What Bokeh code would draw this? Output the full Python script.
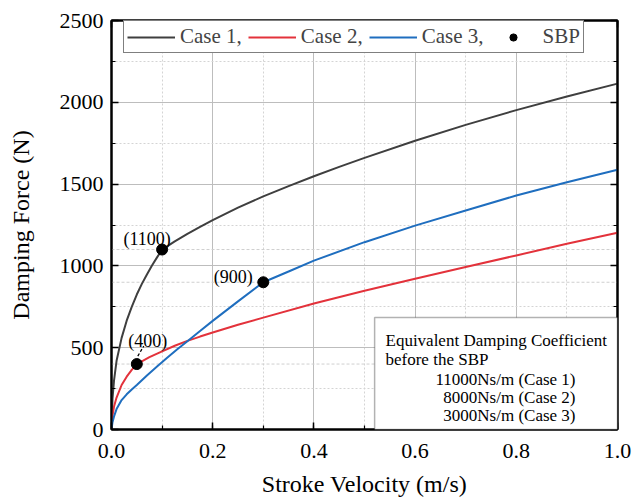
from bokeh.plotting import figure
from bokeh.models import (Range1d, SingleIntervalTicker, LinearAxis, PrintfTickFormatter,
                          CustomJSTickFormatter, Legend, LegendItem, Span, BoxAnnotation, Label)
from bokeh.embed import file_html
from bokeh.resources import INLINE

# ---------------- data ----------------
vel1 = [0, 0.002, 0.005, 0.01, 0.02, 0.03, 0.04, 0.05, 0.06, 0.07, 0.08, 0.09, 0.1,
        0.125, 0.15, 0.175, 0.2, 0.25, 0.3, 0.35, 0.4, 0.45, 0.5, 0.6, 0.7, 0.8, 0.9, 1.0]
force1 = [0, 190, 300, 420, 560, 665, 750, 825, 890, 948, 1003, 1052, 1100,
          1150, 1196, 1239, 1280, 1356, 1425, 1488, 1548, 1605, 1660, 1765, 1862, 1952, 2035, 2114]

vel2 = [0, 0.002, 0.005, 0.01, 0.02, 0.03, 0.04, 0.05, 0.075, 0.1, 0.125, 0.15, 0.175,
        0.2, 0.25, 0.3, 0.4, 0.5, 0.6, 0.7, 0.8, 0.9, 1.0]
force2 = [0, 85, 140, 195, 272, 323, 364, 400, 442, 478, 512, 542, 568,
          593, 640, 684, 770, 848, 921, 993, 1064, 1135, 1203]

vel3 = [0, 0.002, 0.005, 0.01, 0.02, 0.03, 0.04, 0.05, 0.07, 0.09, 0.11, 0.13, 0.15,
        0.175, 0.2, 0.25, 0.3, 0.35, 0.4, 0.5, 0.6, 0.7, 0.8, 0.9, 1.0]
force3 = [0, 45, 80, 125, 180, 215, 245, 272, 330, 385, 438, 490, 540,
          602, 664, 783, 900, 966, 1032, 1145, 1246, 1339, 1430, 1511, 1588]

sbp_vel = [0.1, 0.05, 0.3]
sbp_force = [1100, 400, 900]
sbp_text = ["(1100)", "(400)", "(900)"]

series_names = ["Case 1,", "Case 2,", "Case 3,", "SBP"]
note_lines = ["Equivalent Damping Coefficient", "before the SBP",
              "11000Ns/m (Case 1)", "8000Ns/m (Case 2)", "3000Ns/m (Case 3)"]

# ---------------- layout / style ----------------
FONT = "Liberation Serif"
W, H = 632, 501
ML, MR, MT, MB = 111, 15, 20, 72
FW = W - ML - MR
FH = H - MT - MB
KX = FW / 1.0
KY = FH / 2500.0
C1, C2, C3 = "#3f3f3f", "#e3323b", "#1f6ebf"

p = figure(width=W, height=H, x_range=Range1d(0, 1.0), y_range=Range1d(0, 2500),
           output_backend="svg", toolbar_location=None,
           min_border_left=ML, min_border_right=MR, min_border_top=MT, min_border_bottom=MB,
           x_axis_label="Stroke Velocity (m/s)", y_axis_label="Damping Force (N)")
p.background_fill_color = "white"
p.border_fill_color = "white"
p.outline_line_color = "black"
p.outline_line_width = 2

xt = SingleIntervalTicker(interval=0.2, num_minor_ticks=2)
yt = SingleIntervalTicker(interval=500, num_minor_ticks=2)
p.xaxis.ticker = xt
p.yaxis.ticker = yt
p.xgrid.ticker = xt
p.ygrid.ticker = yt
p.xaxis.formatter = PrintfTickFormatter(format="%.1f")

for ax in (p.xaxis[0], p.yaxis[0]):
    ax.axis_line_color = "black"
    ax.axis_line_width = 2
    ax.major_tick_in = 7
    ax.major_tick_out = 0
    ax.minor_tick_in = 4
    ax.minor_tick_out = 0
    ax.major_tick_line_width = 1.5
    ax.minor_tick_line_width = 1.2
    ax.major_label_text_font = FONT
    ax.major_label_text_font_size = "22px"
    ax.major_label_text_color = "black"
    ax.axis_label_text_font = FONT
    ax.axis_label_text_font_size = "24px"
    ax.axis_label_text_font_style = "normal"
    ax.axis_label_text_color = "black"
p.yaxis.major_label_standoff = 8
p.yaxis.axis_label_standoff = 23
p.xaxis.major_label_standoff = 14
p.xaxis.axis_label_standoff = 10

blank = CustomJSTickFormatter(code="return ''")
for side, tk in (("right", yt), ("above", xt)):
    ax = LinearAxis(ticker=tk, formatter=blank, major_label_standoff=0,
                    axis_line_color="black", axis_line_width=2,
                    major_tick_in=7, major_tick_out=0, minor_tick_in=4, minor_tick_out=0,
                    major_tick_line_width=1.5, minor_tick_line_width=1.2)
    p.add_layout(ax, side)

for g in (p.xgrid[0], p.ygrid[0]):
    g.grid_line_color = "#bdbdbd"
    g.grid_line_width = 1
    g.minor_grid_line_color = "#d4d4d4"
    g.minor_grid_line_dash = "2 2"
    g.minor_grid_line_width = 1

for f in sbp_force:
    p.add_layout(Span(location=f, dimension="width", line_color="#cfcfcf",
                      line_dash="3 2", line_width=1, level="underlay"))

r1 = p.line(vel1, force1, line_color=C1, line_width=2)
r2 = p.line(vel2, force2, line_color=C2, line_width=2)
r3 = p.line(vel3, force3, line_color=C3, line_width=2)
rs = p.scatter(sbp_vel, sbp_force, size=11, color="black")

# leader line for the (400) label
v400, f400 = sbp_vel[1], sbp_force[1]
p.segment(x0=[v400 + 1 / KX], y0=[f400 + 8 / KY], x1=[v400 + 7 / KX], y1=[f400 + 18 / KY],
          line_color="black", line_width=1.3, line_dash="3 2")

offsets = [(-15, 11), (11, 23), (-30, 5)]
for v, f, t, (dx, dy) in zip(sbp_vel, sbp_force, sbp_text, offsets):
    p.add_layout(Label(x=v, y=f, x_offset=dx, y_offset=dy, text=t, text_font=FONT,
                       text_font_size="18px", text_align="center",
                       text_baseline="alphabetic", text_color="black"))

legend = Legend(items=[LegendItem(label=series_names[0], renderers=[r1]),
                       LegendItem(label=series_names[1], renderers=[r2]),
                       LegendItem(label=series_names[2], renderers=[r3]),
                       LegendItem(label=series_names[3], renderers=[rs])],
                orientation="horizontal", location=(12, FH - 3 - 30),
                label_text_font=FONT, label_text_font_size="21px",
                glyph_width=48, glyph_height=18, label_standoff=5, spacing=6,
                padding=3, margin=0, border_line_color="black", border_line_width=1,
                background_fill_color="white", background_fill_alpha=1)
p.add_layout(legend)

p.add_layout(BoxAnnotation(left=0.52, right=1.0, bottom=0, top=684,
                           fill_color="white", fill_alpha=1,
                           line_color="black", line_width=1.5))
note_pos = [(0.5415, 541, "left"), (0.5415, 425, "left"),
            (0.917, 307, "right"), (0.917, 195, "right"), (0.917, 83, "right")]
for (nx, ny, al), t in zip(note_pos, note_lines):
    p.add_layout(Label(x=nx, y=ny, text=t, text_font=FONT, text_font_size="17px",
                       text_align=al, text_baseline="alphabetic", text_color="black"))

open("out.html", "w").write(file_html(p, INLINE))
